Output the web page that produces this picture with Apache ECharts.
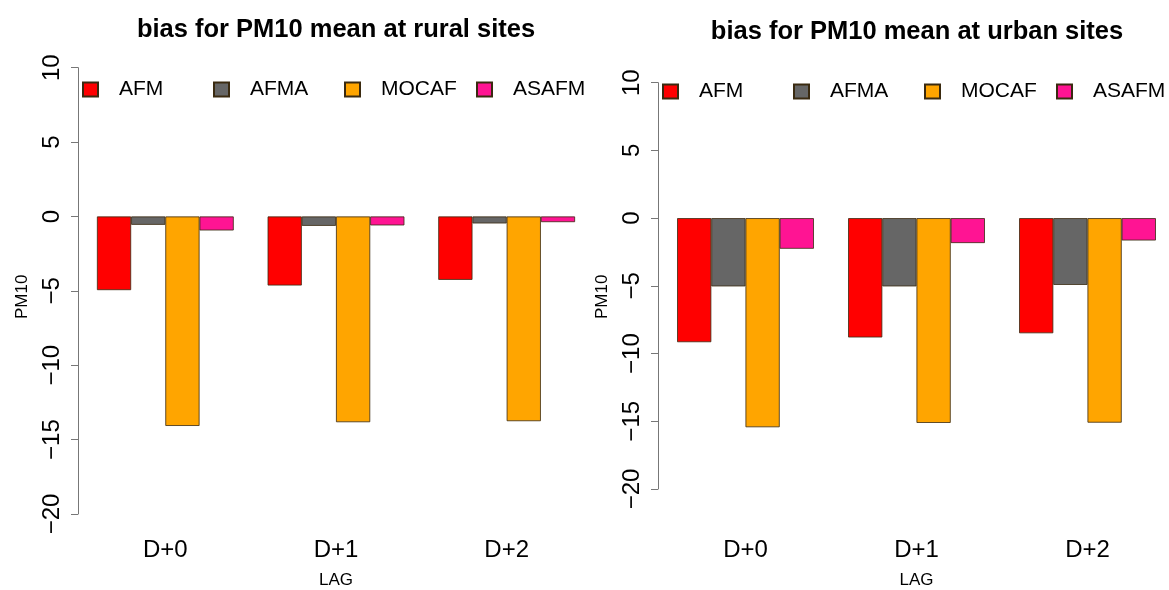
<!DOCTYPE html>
<html>
<head>
<meta charset="utf-8">
<script src="https://cdn.jsdelivr.net/npm/echarts@6/dist/echarts.min.js"></script>
<style>
  html, body { margin: 0; padding: 0; background: #fff; }
  #chart { width: 1169px; height: 590px; }
</style>
</head>
<body>
<div id="chart"></div>
<script>
// Lead times and model names
const lags = ['D+0', 'D+1', 'D+2'];
const models = ['AFM', 'AFMA', 'MOCAF', 'ASAFM'];
const modelColors = ['#FF0000', '#666666', '#FFA500', '#FF1493'];

// Mean PM10 bias per model and lag, rural sites
const ruralAFM   = [-4.95, -4.64, -4.26];
const ruralAFMA  = [-0.56, -0.63, -0.47];
const ruralMOCAF = [-14.08, -13.83, -13.76];
const ruralASAFM = [-0.94, -0.60, -0.38];

// Mean PM10 bias per model and lag, urban sites
const urbanAFM   = [-9.16, -8.81, -8.50];
const urbanAFMA  = [-5.04, -5.04, -4.93];
const urbanMOCAF = [-15.44, -15.12, -15.10];
const urbanASAFM = [-2.26, -1.84, -1.65];

// Y axis range and step
const yMin = -20, yMax = 10, yStep = 5;

const ruralSeries = [ruralAFM, ruralAFMA, ruralMOCAF, ruralASAFM];
const urbanSeries = [urbanAFM, urbanAFMA, urbanMOCAF, urbanASAFM];

const FONT = '"Liberation Sans", Arial, Helvetica, sans-serif';

const panels = [
  { title: 'bias for PM10 mean at rural sites', titleX: 336, titleTop: 17, left: 80, width: 512, top: 67.7, height: 446.3,
    labelMargin: 24, lagGap: 58, pmShift: 12,
    legendLeft: [82, 213, 344, 476], legendTop: 79, data: ruralSeries },
  { title: 'bias for PM10 mean at urban sites', titleX: 917, titleTop: 19, left: 660, width: 513, top: 82.7, height: 406.3,
    labelMargin: 49, lagGap: 83, pmShift: 22,
    legendLeft: [662, 793, 924, 1056], legendTop: 81, data: urbanSeries }
];

const option = {
  animation: false,
  backgroundColor: '#fff',
  textStyle: { fontFamily: FONT },
  title: panels.map(p => ({
    text: p.title, left: p.titleX, top: p.titleTop, textAlign: 'center', padding: 0,
    textStyle: { fontFamily: FONT, fontWeight: 'bold', fontSize: 25.5, color: '#000' }
  })),
  legend: [],
  grid: panels.map(p => ({ left: p.left, width: p.width, top: p.top, height: p.height,
    containLabel: false, outerBoundsMode: 'none' })),
  xAxis: panels.map((p, i) => ({
    type: 'category', gridIndex: i, data: lags,
    axisLine: { show: false }, axisTick: { show: false }, splitLine: { show: false },
    axisLabel: { margin: p.labelMargin, fontSize: 24, color: '#000', fontFamily: FONT },
    name: 'LAG', nameLocation: 'middle', nameGap: p.lagGap,
    nameTextStyle: { fontSize: 17, color: '#000', fontFamily: FONT }
  })),
  yAxis: panels.map((p, i) => ({
    type: 'value', gridIndex: i, min: yMin, max: yMax, interval: yStep, offset: 2,
    axisLine: { show: true, lineStyle: { color: '#777', width: 1 } },
    axisTick: { show: true, length: 7, lineStyle: { color: '#777', width: 1 } },
    splitLine: { show: false },
    axisLabel: { rotate: 90, margin: 14, fontSize: 24, color: '#000', fontFamily: FONT,
      formatter: v => String(v).replace('-', '\u2212') },
    name: 'PM10', nameLocation: 'middle', nameRotate: 90, nameGap: 47,
    nameTextStyle: { fontSize: 17, color: '#000', fontFamily: FONT, padding: [0, p.pmShift, 0, 0] }
  })),
  series: []
};

panels.forEach((p, i) => {
  models.forEach((m, k) => {
    option.series.push({
      name: m, type: 'bar', xAxisIndex: i, yAxisIndex: i,
      data: p.data[k], barWidth: 34.2, barGap: '0%',
      itemStyle: { color: modelColors[k], borderColor: '#3a2a10', borderWidth: 0.8 }
    });
    option.legend.push({
      data: [{ name: m, icon: 'rect' }], left: p.legendLeft[k], top: p.legendTop, padding: 0,
      itemWidth: 15, itemHeight: 14, itemGap: 0, selectedMode: false,
      textStyle: { fontSize: 21, color: '#000', fontFamily: FONT, padding: [0, 0, 0, 16] }
    });
  });
});

const chart = echarts.init(document.getElementById('chart'), null, { renderer: 'canvas' });
chart.setOption(option);
</script>
</body>
</html>
